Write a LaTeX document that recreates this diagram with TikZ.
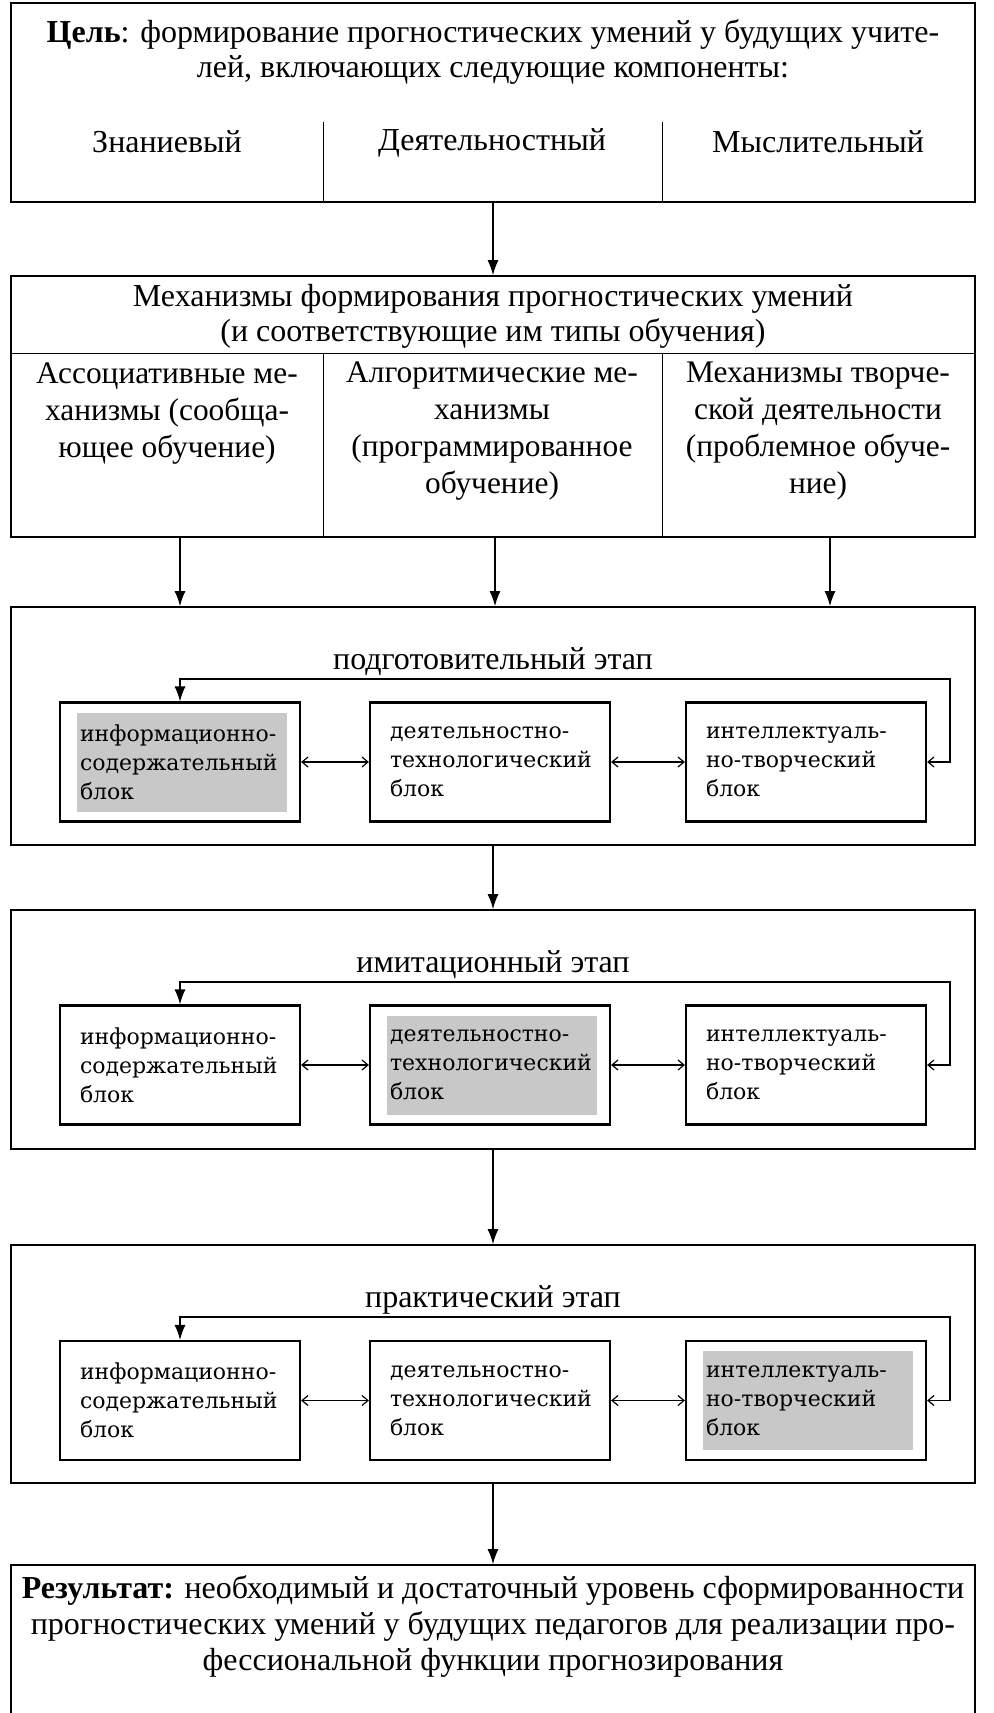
\documentclass[tikz,border=0pt]{standalone}
\usepackage{fontspec}
\setmainfont{Liberation Serif}
\newfontfamily\blockfont{DejaVu Serif}
\usetikzlibrary{arrows.meta}
\definecolor{hlgray}{RGB}{200,200,200}

\tikzset{
  bigbox/.style={draw, line width=0.9pt, minimum width=482pt, inner sep=0pt},
  txt/.style={font=\fontsize{16}{17.5}\selectfont, align=center, inner sep=0pt},
  coltxt/.style={font=\fontsize{15.7}{18.5}\selectfont, align=center, inner sep=0pt},
  blockbox/.style={draw, line width=1.1pt, minimum width=120pt, minimum height=59.5pt,
    text width=100pt, inner xsep=10pt, align=left, font=\blockfont\fontsize{11}{14.5}\selectfont},
  hl/.style={path picture={\fill[hlgray] ([shift={(8.5pt,-5pt)}]path picture bounding box.north west)
    rectangle ([shift={(-6.5pt,5pt)}]path picture bounding box.south east);}},
  arr/.style={-{Latex[length=7.5pt,width=5.5pt]}, line width=0.6pt},
  dbl/.style={{Straight Barb[length=3pt,width=5pt]}-{Straight Barb[length=3pt,width=5pt]}, line width=0.6pt},
  fbk/.style={{Straight Barb[length=3pt,width=5pt]}-{Latex[length=7.5pt,width=5.5pt]}, line width=0.6pt},
  sep/.style={line width=0.5pt}
}

\begin{document}
\begin{tikzpicture}[x=0.5pt, y=-0.5pt]
  \useasboundingbox (0,0) rectangle (993,1713);

  % goal
  \node[bigbox, minimum height=99.5pt] (goal) at (493,102.5) {};
  \node[txt] (goaltxt) at (493,51.5) {\textbf{Цель}: формирование прогностических умений у будущих учите-\\лей, включающих следующие компоненты:};
  \draw[sep] (323,122) -- (323,202);
  \draw[sep] (662,122) -- (662,202);
  \node[txt] (know) at (167,142) {Знаниевый};
  \node[txt] (act) at (492,143) {Деятельностный};
  \node[txt] (think) at (818,142) {Мыслительный};

  % mechanisms
  \node[bigbox, minimum height=130.5pt] (mech) at (493,406.5) {};
  \node[txt] (mechtxt) at (493,316) {Механизмы формирования прогностических умений\\(и соответствующие им типы обучения)};
  \draw[sep] (11,353) -- (975,353);
  \draw[sep] (323,353) -- (323,537);
  \draw[sep] (662,353) -- (662,537);
  \node[coltxt] (colA) at (167,413.5) {Ассоциативные ме-\\ханизмы (сообща-\\ющее обучение)};
  \node[coltxt] (colB) at (492,431) {Алгоритмические ме-\\ханизмы\\(программированное\\обучение)};
  \node[coltxt] (colC) at (818,431) {Механизмы творче-\\ской деятельности\\(проблемное обуче-\\ние)};
  \coordinate (ka) at (180,0);
  \coordinate (kb) at (495,0);
  \coordinate (kc) at (830,0);

  % stage 1
  \node[bigbox, minimum height=119pt] (st1) at (493,726) {};
  \node[txt] (st1txt) at (493,661.5) {подготовительный этап};
  \node[blockbox, hl] (b11) at (180,762) {информационно-\\содержательный\\блок};
  \node[blockbox] (b12) at (490,762) {деятельностно-\\технологический\\блок};
  \node[blockbox] (b13) at (806,762) {интеллектуаль-\\но-творческий\\блок};
  \coordinate (fb1) at (950,679);

  % stage 2
  \node[bigbox, minimum height=119.5pt] (st2) at (493,1029.5) {};
  \node[txt] (st2txt) at (493,964.5) {имитационный этап};
  \node[blockbox] (b21) at (180,1065) {информационно-\\содержательный\\блок};
  \node[blockbox, hl] (b22) at (490,1065) {деятельностно-\\технологический\\блок};
  \node[blockbox] (b23) at (806,1065) {интеллектуаль-\\но-творческий\\блок};
  \coordinate (fb2) at (950,982);

  % stage 3
  \node[bigbox, minimum height=119pt] (st3) at (493,1364) {};
  \node[txt] (st3txt) at (493,1300) {практический этап};
  \node[blockbox] (b31) at (180,1400.5) {информационно-\\содержательный\\блок};
  \node[blockbox] (b32) at (490,1400.5) {деятельностно-\\технологический\\блок};
  \node[blockbox, hl] (b33) at (806,1400.5) {интеллектуаль-\\но-творческий\\блок};
  \coordinate (fb3) at (950,1317);

  % result
  \node[bigbox, minimum height=82.5pt] (res) at (493,1647.5) {};
  \node[txt, font=\fontsize{16}{18}\selectfont] (restxt) at (493,1626) {\textbf{Результат:} необходимый и достаточный уровень сформированности\\прогностических умений у будущих педагогов для реализации про-\\фессиональной функции прогнозирования};

  % connectors
  \draw[arr] (goal.south) -- (mech.north);
  \draw[arr] (mech.south -| ka) -- (st1.north -| ka);
  \draw[arr] (mech.south -| kb) -- (st1.north -| kb);
  \draw[arr] (mech.south -| kc) -- (st1.north -| kc);
  \draw[dbl] (b11) -- (b12);
  \draw[dbl] (b12) -- (b13);
  \draw[fbk] (b13.east) -| (fb1) -| (b11.north);
  \draw[arr] (st1) -- (st2);
  \draw[dbl] (b21) -- (b22);
  \draw[dbl] (b22) -- (b23);
  \draw[fbk] (b23.east) -| (fb2) -| (b21.north);
  \draw[arr] (st2) -- (st3);
  \draw[dbl] (b31) -- (b32);
  \draw[dbl] (b32) -- (b33);
  \draw[fbk] (b33.east) -| (fb3) -| (b31.north);
  \draw[arr] (st3) -- (res);
\end{tikzpicture}
\end{document}
